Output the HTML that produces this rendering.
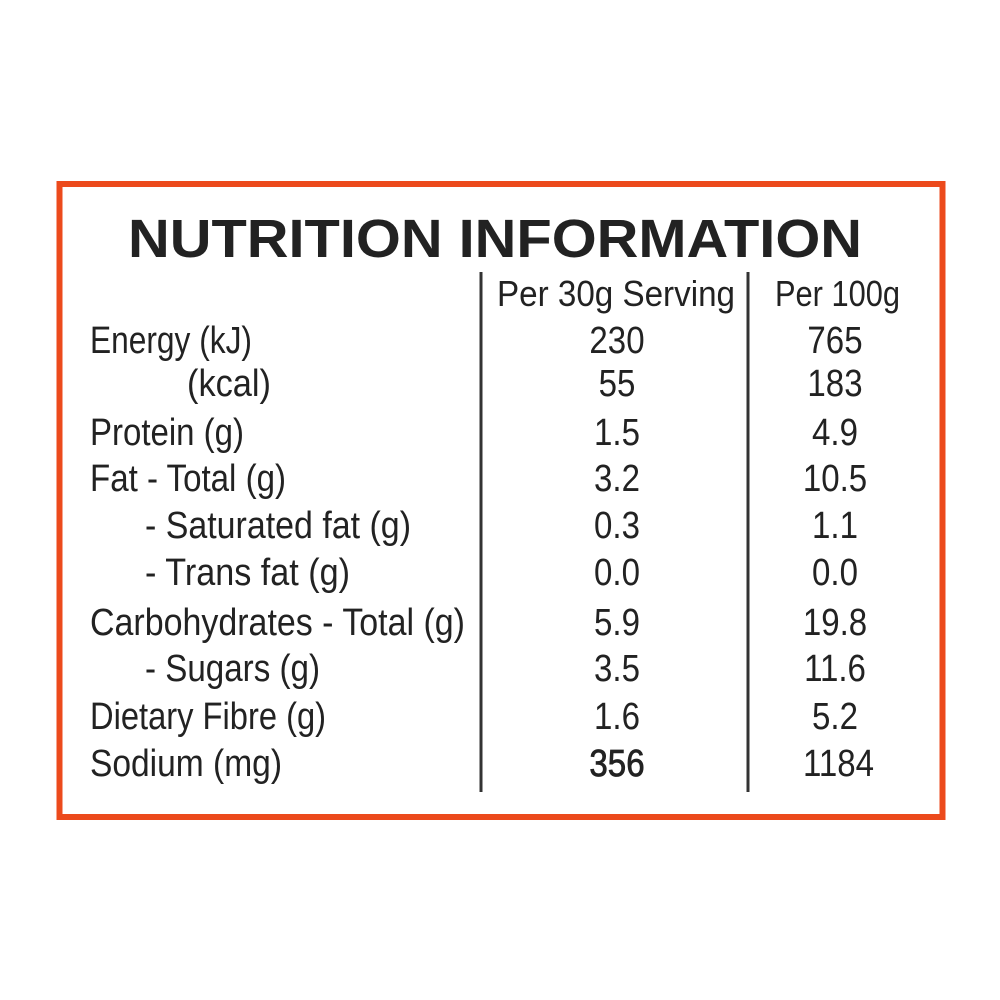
<!DOCTYPE html>
<html><head><meta charset="utf-8"><style>
html,body{margin:0;padding:0;background:#fff;}
svg{display:block;}
text{font-family:"Liberation Sans Narrow","Liberation Sans",sans-serif;fill:#222;}
</style></head><body>
<svg width="1000" height="1000" viewBox="0 0 1000 1000" xmlns="http://www.w3.org/2000/svg">
<rect x="0" y="0" width="1000" height="1000" fill="#fff"/>
<rect x="59.5" y="184" width="883" height="633" fill="#fff" stroke="#ec4a1c" stroke-width="6"/>
<text x="128" y="257" font-size="54" font-weight="bold" textLength="734" lengthAdjust="spacingAndGlyphs" fill="#2a2a2a">NUTRITION INFORMATION</text>
<line x1="481" y1="272" x2="481" y2="792" stroke="#333" stroke-width="3"/>
<line x1="748" y1="272" x2="748" y2="792" stroke="#333" stroke-width="3"/>
<g font-size="36">
<text x="497" y="306" textLength="238" lengthAdjust="spacingAndGlyphs">Per 30g Serving</text>
<text x="775" y="306" textLength="125" lengthAdjust="spacingAndGlyphs">Per 100g</text>
</g>
<g font-size="38">
<text x="90" y="353" textLength="162" lengthAdjust="spacingAndGlyphs">Energy (kJ)</text>
<text x="187" y="396" textLength="84" lengthAdjust="spacingAndGlyphs">(kcal)</text>
<text x="90" y="445" textLength="154" lengthAdjust="spacingAndGlyphs">Protein (g)</text>
<text x="90" y="491" textLength="196" lengthAdjust="spacingAndGlyphs">Fat - Total (g)</text>
<text x="145" y="538" textLength="266" lengthAdjust="spacingAndGlyphs">- Saturated fat (g)</text>
<text x="145" y="585" textLength="205" lengthAdjust="spacingAndGlyphs">- Trans fat (g)</text>
<text x="90" y="635" textLength="375" lengthAdjust="spacingAndGlyphs">Carbohydrates - Total (g)</text>
<text x="145" y="681" textLength="175" lengthAdjust="spacingAndGlyphs">- Sugars (g)</text>
<text x="90" y="729" textLength="236" lengthAdjust="spacingAndGlyphs">Dietary Fibre (g)</text>
<text x="90" y="776" textLength="192" lengthAdjust="spacingAndGlyphs">Sodium (mg)</text>
</g>
<g font-size="38" text-anchor="middle" transform="translate(617,0) scale(0.87,1)">
<text x="0" y="353">230</text>
<text x="0" y="396">55</text>
<text x="0" y="445">1.5</text>
<text x="0" y="491">3.2</text>
<text x="0" y="538">0.3</text>
<text x="0" y="585">0.0</text>
<text x="0" y="635">5.9</text>
<text x="0" y="681">3.5</text>
<text x="0" y="729">1.6</text>
<text x="0" y="776" stroke="#222" stroke-width="0.8">356</text>
</g>
<g font-size="38" text-anchor="middle" transform="translate(835,0) scale(0.87,1)">
<text x="0" y="353">765</text>
<text x="0" y="396">183</text>
<text x="0" y="445">4.9</text>
<text x="0" y="491">10.5</text>
<text x="0" y="538">1.1</text>
<text x="0" y="585">0.0</text>
<text x="0" y="635">19.8</text>
<text x="0" y="681">11.6</text>
<text x="0" y="729">5.2</text>
<text x="4" y="776">1184</text>
</g>
</svg>
</body></html>
